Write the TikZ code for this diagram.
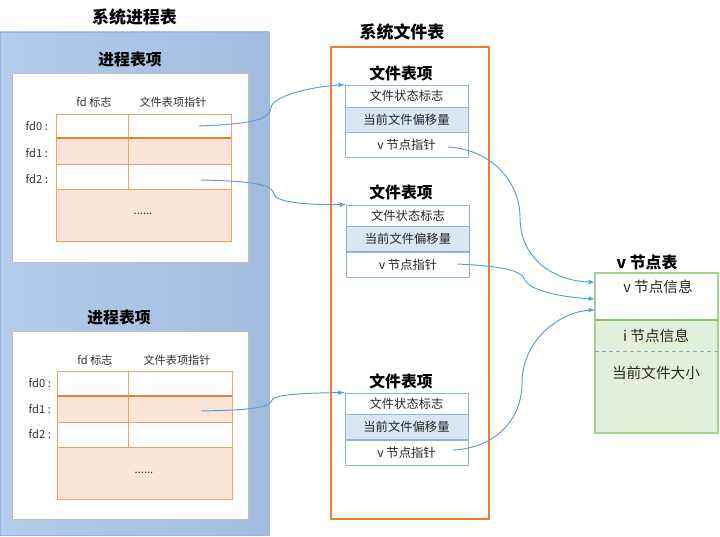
\documentclass[tikz,border=0pt]{standalone}
\usepackage{fontspec}
\setmainfont{Noto Sans CJK SC}
\usepackage{tikz}
\usetikzlibrary{arrows}
\usepackage{xcolor}
\definecolor{orng}{RGB}{237,125,49}
\definecolor{torng}{RGB}{241,160,105}
\definecolor{lorng}{RGB}{251,229,214}
\definecolor{lblue}{RGB}{218,230,244}
\definecolor{eblue}{RGB}{143,180,222}
\definecolor{pblue}{RGB}{170,198,234}
\definecolor{dblue}{RGB}{150,183,226}
\definecolor{arr}{RGB}{91,155,213}
\definecolor{grn}{RGB}{169,209,142}
\definecolor{dgrn}{RGB}{141,194,111}
\definecolor{lgrn}{RGB}{226,239,218}
\definecolor{dashclr}{RGB}{127,167,192}

\begin{document}
\begin{tikzpicture}[x=0.03cm,y=-0.03cm,>=latex,
  ttl/.style={font=\fontsize{14.5}{17}\selectfont\bfseries},
  sub/.style={font=\fontsize{13.5}{16}\selectfont\bfseries},
  small/.style={font=\fontsize{9.5}{11}\selectfont,text=black!80},
  frow/.style={draw=eblue,line width=0.8pt,minimum width=3.69cm,inner sep=0pt,font=\fontsize{10.5}{12}\selectfont,text=black!85},
  vtxt/.style={font=\fontsize{12.5}{15}\selectfont,text=black!85},
  link/.style={->,draw=arr,line width=0.8pt}]
\useasboundingbox (0,0) rectangle (720,537);
\shade[left color=pblue!88!white,right color=pblue!95!black] (0.5,32) rectangle (269.5,535);
\draw[dblue,line width=0.8pt] (0.5,32) rectangle (269.5,535);
\node[ttl] (sysproc) at (134.5,17) {系统进程表};
\node[sub] (proc1) at (130,60) {进程表项};
\node[sub] (proc2) at (119,318) {进程表项};
\draw[black!25,fill=white] (12,73) rectangle (248,262);
\draw[black!25,fill=white] (12,331) rectangle (248,519);
\node[small] (h1a) at (94,102) {fd 标志};
\node[small] (h1b) at (173,102) {文件表项指针};
\node[small] (h2a) at (95,360) {fd 标志};
\node[small] (h2b) at (177,360) {文件表项指针};
\fill[lorng] (56,138) rectangle (231,164);
\fill[lorng] (56,189) rectangle (231,241);
\draw[torng,line width=0.8pt] (56,114) rectangle (231,241);
\draw[torng,line width=0.8pt] (56,164) -- (231,164) (56,189) -- (231,189) (128,114) -- (128,189);
\draw[orng,line width=1.4pt] (56,138) -- (231,138);
\fill[lorng] (57,396) rectangle (232,422);
\fill[lorng] (57,447) rectangle (232,499);
\draw[torng,line width=0.8pt] (57,371) rectangle (232,499);
\draw[torng,line width=0.8pt] (57,422) -- (232,422) (57,447) -- (232,447) (128,371) -- (128,447);
\draw[orng,line width=1.4pt] (57,396) -- (232,396);
\node[small,anchor=east] (fd10) at (52,126) {fd0 :};
\node[small,anchor=east] (fd11) at (52,153) {fd1 :};
\node[small,anchor=east] (fd12) at (52,179) {fd2 :};
\node[small,anchor=east] (fd20) at (55,383) {fd0 :};
\node[small,anchor=east] (fd21) at (55,409) {fd1 :};
\node[small,anchor=east] (fd22) at (55,434) {fd2 :};
\node[small] (dots1) at (143,214) {......};
\node[small] (dots2) at (144,473) {......};
\node[ttl] (sysfile) at (402,32) {系统文件表};
\draw[orng,line width=1.2pt] (331,47) rectangle (489,519);
\node[sub] (fe1) at (401,73) {文件表项};
\node[sub] (fe2) at (401,192) {文件表项};
\node[sub] (fe3) at (401,381) {文件表项};
\node[frow,minimum height=0.66cm] (f1a) at (406.5,96) {文件状态标志};
\node[frow,minimum height=0.75cm,fill=lblue] (f1b) at (406.5,119.5) {当前文件偏移量};
\node[frow,minimum height=0.75cm] (f1c) at (406.5,144.5) {v 节点指针};
\node[frow,minimum height=0.66cm] (f2a) at (408,216) {文件状态标志};
\node[frow,minimum height=0.75cm,fill=lblue] (f2b) at (408,239) {当前文件偏移量};
\node[frow,minimum height=0.75cm] (f2c) at (408,264.5) {v 节点指针};
\node[frow,minimum height=0.66cm] (f3a) at (406.5,404) {文件状态标志};
\node[frow,minimum height=0.75cm,fill=lblue] (f3b) at (406.5,427) {当前文件偏移量};
\node[frow,minimum height=0.75cm] (f3c) at (406.5,452.5) {v 节点指针};
\node[sub] (vtab) at (647,262) {v 节点表};
\fill[lgrn] (595,320) rectangle (718,433);
\draw[grn,line width=1pt] (595,273) rectangle (718,433);
\draw[dgrn,line width=1.4pt] (595,320) -- (718,320);
\draw[dashclr,dashed,line width=0.8pt] (595,351) -- (718,351);
\node (vtop) at (656.5,296.5) [minimum width=3.69cm,minimum height=1.41cm,inner sep=0pt] {};
\node[vtxt] (vinfo) at (658,287) {v 节点信息};
\node[vtxt] (iinfo) at (656,336) {i 节点信息};
\node[vtxt] (fsize) at (656,373) {当前文件大小};
\coordinate (s1) at (199,126);
\coordinate (s2) at (201,180);
\coordinate (s3) at (201,411);
\coordinate (p1) at (448,147);
\coordinate (p2) at (457,264);
\coordinate (p3) at (453,450);
\draw[link] (s1) .. controls (250,124) and (270,120) .. (271,108) .. controls (272,96) and (310,87) .. (f1a.north west);
\draw[link] (s2) .. controls (250,181) and (272,184) .. (274,194) .. controls (276,204) and (320,205) .. (f2a.north west);
\draw[link] (s3) .. controls (250,410) and (270,408) .. (272,400) .. controls (274,394) and (310,393) .. (f3a.north west);
\draw[link] (p1) .. controls (495,150) and (520,185) .. (520,217) .. controls (520,260) and (555,281) .. ([yshift=0.43cm]vtop.west);
\draw[link] (p2) .. controls (500,266) and (522,270) .. (525,280) .. controls (530,292) and (570,298) .. ([yshift=-0.07cm]vtop.west);
\draw[link] (p3) .. controls (495,448) and (522,420) .. (522,383) .. controls (522,340) and (560,312) .. ([yshift=-0.4cm]vtop.west);
\end{tikzpicture}
\end{document}
